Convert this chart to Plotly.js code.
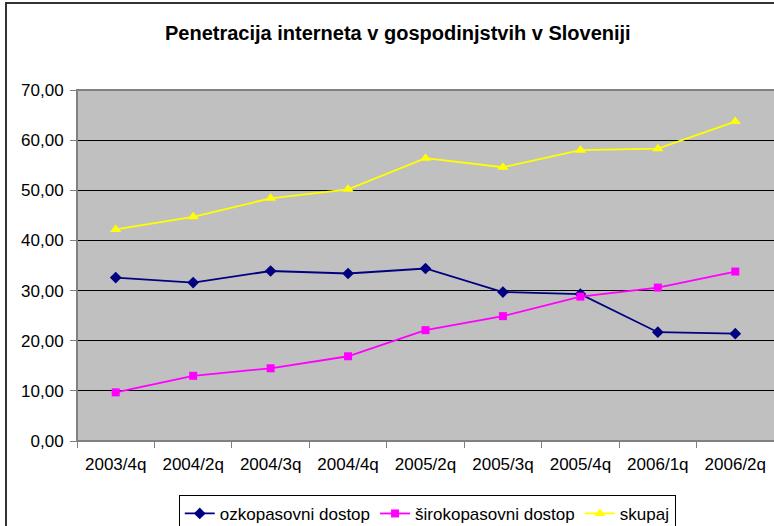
<!DOCTYPE html>
<html>
<head>
<meta charset="utf-8">
<script src="https://cdn.plot.ly/plotly-3.0.1.min.js"></script>
<style>
html,body{margin:0;padding:0;background:#fff;}
#wrap{position:relative;width:774px;height:526px;overflow:hidden;}
#chart{width:774px;height:526px;}
#frame{position:absolute;left:5px;top:2px;width:800px;height:600px;border-left:2px solid #333;border-top:2px solid #333;pointer-events:none;}
</style>
</head>
<body>
<div id="wrap"><div id="chart"></div><div id="frame"></div></div>
<script>
const categories = ["2003/4q","2004/2q","2004/3q","2004/4q","2005/2q","2005/3q","2005/4q","2006/1q","2006/2q"];
const ozkopasovni = [32.6, 31.6, 33.9, 33.4, 34.4, 29.7, 29.3, 21.7, 21.4];
const sirokopasovni = [9.7, 13.0, 14.5, 16.9, 22.1, 24.9, 28.8, 30.6, 33.8];
const skupaj = [42.2, 44.7, 48.4, 50.2, 56.4, 54.6, 58.0, 58.3, 63.7];
const yTicks = [0,10,20,30,40,50,60,70];

const FONT = "Liberation Sans, Arial, sans-serif";
const traces = [
  {x: categories, y: ozkopasovni, name: "ozkopasovni dostop", type: "scatter", mode: "lines+markers",
   line: {color: "#000080", width: 1.8}, marker: {symbol: "diamond", size: 9, color: "#000080"}},
  {x: categories, y: sirokopasovni, name: "širokopasovni dostop", type: "scatter", mode: "lines+markers",
   line: {color: "#FF00FF", width: 1.8}, marker: {symbol: "square", size: 8, color: "#FF00FF"}},
  {x: categories, y: skupaj, name: "skupaj", type: "scatter", mode: "lines+markers",
   line: {color: "#FFFF00", width: 1.8}, marker: {symbol: "triangle-up", size: 10, color: "#FFFF00"}}
];

const layout = {
  width: 774, height: 526,
  margin: {l: 77, r: 0, t: 89.5, b: 85, pad: 0, autoexpand: false},
  paper_bgcolor: "#FFFFFF",
  plot_bgcolor: "#C0C0C0",
  separators: ",.",
  font: {family: FONT, size: 17, color: "#000"},
  title: {text: "<b>Penetracija interneta v gospodinjstvih v Sloveniji</b>", font: {family: FONT, size: 20, color: "#000"},
          x: 0.514, xanchor: "center", y: 0.937, yanchor: "middle"},
  showlegend: true,
  legend: {orientation: "h", x: 0.146, xanchor: "left", y: -0.1536, yanchor: "top",
           bordercolor: "#000", borderwidth: 1, bgcolor: "#fff",
           font: {family: FONT, size: 17, color: "#000"}, itemwidth: 30, tracegroupgap: 0},
  xaxis: {type: "category", range: [-0.5, 8.5], showgrid: false, zeroline: false,
          showline: true, linecolor: "#808080", linewidth: 1,
          ticks: "outside", tickson: "boundaries", ticklen: 6, tickcolor: "#808080",
          ticklabelstandoff: 8,
          tickfont: {family: FONT, size: 17, color: "#000"}, fixedrange: true},
  yaxis: {range: [0, 70], tickvals: yTicks, tickformat: ".2f", showgrid: true, gridcolor: "#000", gridwidth: 1,
          zeroline: false, showline: true, linecolor: "#808080", linewidth: 1,
          ticks: "outside", ticklen: 6, tickcolor: "#808080",
          ticklabelstandoff: 3,
          tickfont: {family: FONT, size: 17, color: "#000"}, fixedrange: true},
  shapes: [
    {type: "rect", xref: "paper", yref: "paper", x0: 0, x1: 1.01, y0: 0, y1: 1,
     line: {color: "#808080", width: 2}, fillcolor: "rgba(0,0,0,0)", layer: "above"}
  ]
};

Plotly.newPlot("chart", traces, layout, {displayModeBar: false, staticPlot: true});
</script>
</body>
</html>
